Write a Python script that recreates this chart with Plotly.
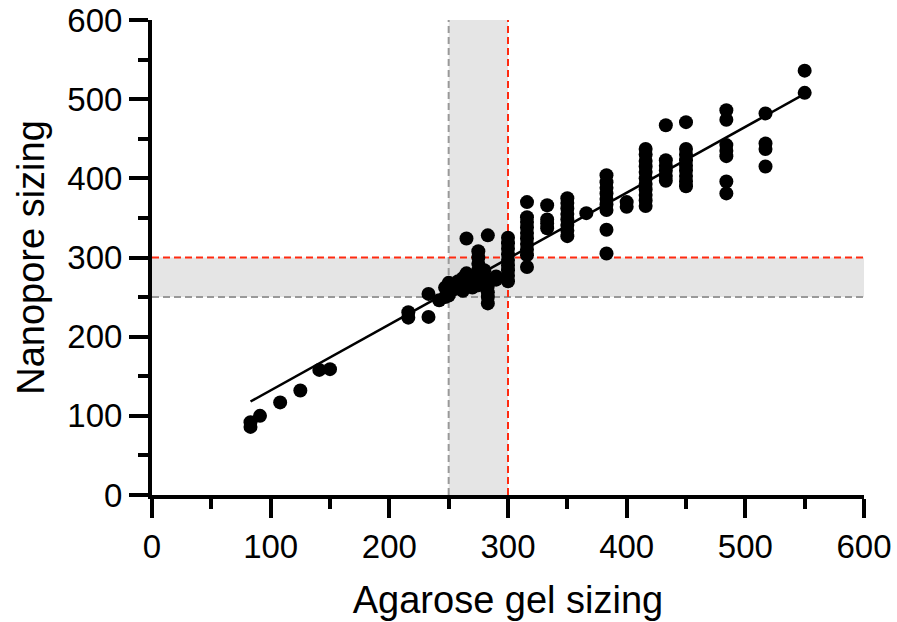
import numpy as np
import plotly.graph_objects as go

# ---- data (agarose gel size -> nanopore sizes) ----
gel_sizes = [83, 91, 108, 125, 141, 150, 216, 233, 242, 247, 250, 255, 258, 262,
             265, 270, 275, 280, 283, 290, 300, 316, 333, 350, 366, 383, 400,
             416, 433, 450, 484, 517, 550]
nanopore_sizes = [
    [86, 92], [100], [117], [132], [158], [159], [224, 231], [225, 254],
    [246], [250, 262], [252, 258, 265, 268], [260, 266], [262, 270], [258, 274],
    [266, 272, 280, 324], [262, 276], [265, 284, 292, 300, 308], [275, 284],
    [242, 250, 256, 264, 272, 328], [272, 276],
    [270, 277, 284, 290, 297, 304, 311, 318, 325],
    [288, 303, 310, 317, 324, 331, 338, 345, 351, 370],
    [337, 343, 348, 366],
    [327, 334, 341, 348, 355, 362, 369, 375],
    [356],
    [305, 335, 360, 367, 374, 381, 388, 395, 404],
    [364, 370],
    [365, 372, 379, 386, 393, 400, 408, 415, 422, 430, 437],
    [397, 403, 410, 416, 423, 467],
    [390, 396, 403, 410, 416, 423, 430, 437, 471],
    [381, 396, 428, 435, 442, 474, 486],
    [415, 437, 444, 482],
    [508, 536],
]
lower_threshold = 250
upper_threshold = 300
axis_range = [0, 600]

x_pts = [g for g, ys in zip(gel_sizes, nanopore_sizes) for _ in ys]
y_pts = [y for ys in nanopore_sizes for y in ys]

slope, intercept = np.polyfit(x_pts, y_pts, 1)
fit_x = np.array([min(x_pts), max(x_pts)])
fit_y = slope * fit_x + intercept

FONT = "Liberation Sans, Arial, Helvetica, sans-serif"

fig = go.Figure()
fig.add_trace(go.Scatter(x=fit_x, y=fit_y, mode="lines",
                         line=dict(color="black", width=2.5), showlegend=False,
                         hoverinfo="skip"))
fig.add_trace(go.Scatter(x=x_pts, y=y_pts, mode="markers",
                         marker=dict(color="black", size=14, line=dict(width=0)),
                         showlegend=False))

band = "rgba(215,215,215,0.65)"
dash = "7px,4px"
shapes = [
    dict(type="rect", xref="x", yref="y", x0=lower_threshold, x1=upper_threshold,
         y0=axis_range[0], y1=axis_range[1], fillcolor=band, line=dict(width=0),
         layer="below"),
    dict(type="rect", xref="x", yref="y", x0=axis_range[0], x1=axis_range[1],
         y0=lower_threshold, y1=upper_threshold, fillcolor=band, line=dict(width=0),
         layer="below"),
    dict(type="line", xref="x", yref="y", x0=lower_threshold, x1=lower_threshold,
         y0=axis_range[0], y1=axis_range[1],
         line=dict(color="#999999", width=2, dash=dash), layer="below"),
    dict(type="line", xref="x", yref="y", x0=axis_range[0], x1=axis_range[1],
         y0=lower_threshold, y1=lower_threshold,
         line=dict(color="#999999", width=2, dash=dash), layer="below"),
    dict(type="line", xref="x", yref="y", x0=upper_threshold, x1=upper_threshold,
         y0=axis_range[0], y1=axis_range[1],
         line=dict(color="#ff2a10", width=2, dash=dash), layer="below"),
    dict(type="line", xref="x", yref="y", x0=axis_range[0], x1=axis_range[1],
         y0=upper_threshold, y1=upper_threshold,
         line=dict(color="#ff2a10", width=2, dash=dash), layer="below"),
]

axis_common = dict(
    range=axis_range, dtick=100, tick0=0, showgrid=False, zeroline=False,
    showline=True, linecolor="black", linewidth=4,
    ticks="outside", ticklen=19, tickwidth=4, tickcolor="black",
    minor=dict(dtick=50, ticks="outside", ticklen=10, tickwidth=4,
               tickcolor="black", showgrid=False),
    tickfont=dict(family=FONT, size=33, color="black"),
    automargin=False,
)

fig.update_layout(
    width=897, height=622,
    margin=dict(l=152, r=33, t=20, b=127),
    paper_bgcolor="white", plot_bgcolor="white",
    shapes=shapes,
    xaxis=dict(**axis_common,
               title=dict(text="Agarose gel sizing",
                          font=dict(family=FONT, size=38, color="black"),
                          standoff=24)),
    yaxis=dict(**axis_common,
               title=dict(text="Nanopore sizing",
                          font=dict(family=FONT, size=38, color="black"),
                          standoff=12)),
)

fig.write_html("out.html")
